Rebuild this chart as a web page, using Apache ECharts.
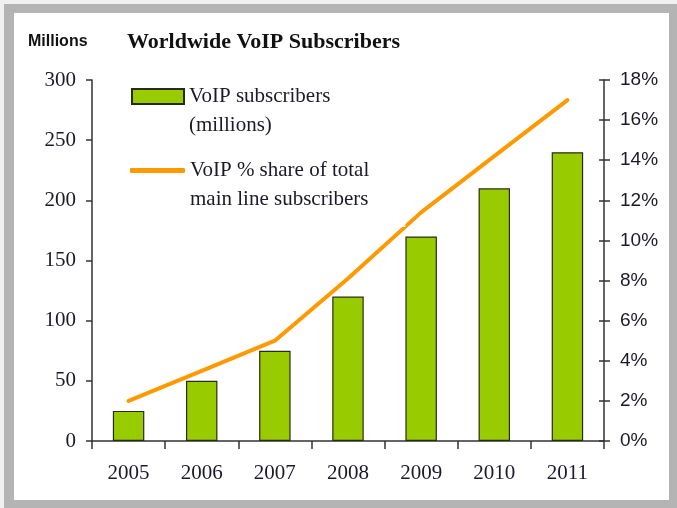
<!DOCTYPE html>
<html>
<head>
<meta charset="utf-8">
<script src="https://cdn.jsdelivr.net/npm/echarts@6/dist/echarts.min.js"></script>
<style>
  html, body { margin: 0; padding: 0; background: #f0f0f0; }
  #frame { position: absolute; left: 4px; top: 4px; width: 655px; height: 487px; border: 10px solid #b4b4b4; border-top-width: 9px; border-right-width: 8px; border-bottom-width: 8px; background: #ffffff; }
  #chart { position: absolute; left: 0; top: 0; width: 677px; height: 508px; }
</style>
</head>
<body>
<div id="frame"></div>
<div id="chart"></div>
<script>
const years = ['2005', '2006', '2007', '2008', '2009', '2010', '2011'];
const subscribers = [25, 50, 75, 120, 170, 210, 240];
const sharePct = [2, 3.5, 5, 8.1, 11.4, 14.2, 17];
const leftTicks = { min: 0, max: 300, interval: 50 };
const rightTicks = { min: 0, max: 18, interval: 2 };
const barName = 'VoIP subscribers\n(millions)';
const lineName = 'VoIP % share of total\nmain line subscribers';

const chart = echarts.init(document.getElementById('chart'), null, { renderer: 'canvas' });
const serif = "'Liberation Serif', 'Times New Roman', serif";
const sans = "'Liberation Sans', Arial, sans-serif";
const axisColor = '#333333';
const legendText = { fontFamily: serif, fontSize: 21, color: '#1a1a2a', lineHeight: 29 };

chart.setOption({
  backgroundColor: 'transparent',
  animation: false,
  title: [
    { text: 'Worldwide VoIP Subscribers', left: 127, top: 31, padding: 0,
      textStyle: { fontFamily: serif, fontSize: 22, fontWeight: 'bold', color: '#111111' } },
    { text: 'Millions', left: 28, top: 34, padding: 0,
      textStyle: { fontFamily: sans, fontSize: 16, fontWeight: 'bold', color: '#111111' } }
  ],
  legend: [
    { data: [{ name: barName, icon: 'rect' }], left: 131, top: 53, orient: 'vertical', itemWidth: 52, itemHeight: 15, itemGap: 0,
      padding: [0, 6, 2, 0], backgroundColor: '#ffffff', selectedMode: false,
      formatter: function (n) { return '\n' + n; },
      textStyle: legendText },
    { data: [{ name: lineName, icon: 'roundRect' }], left: 130, top: 127, orient: 'vertical', itemWidth: 55, itemHeight: 5, itemGap: 0,
      padding: [0, 36, 13, 0], backgroundColor: '#ffffff', selectedMode: false,
      formatter: function (n) { return '\n' + n; },
      textStyle: legendText }
  ],
  grid: { left: 92, right: 73, top: 80, bottom: 67, containLabel: false },
  xAxis: {
    type: 'category', data: years, boundaryGap: true,
    axisLine: { lineStyle: { color: axisColor, width: 1.5 } },
    axisTick: { show: true, length: 8, lineStyle: { color: axisColor, width: 1.5 } },
    axisLabel: { fontFamily: serif, fontSize: 21, color: '#1a1a2a', margin: 22 }
  },
  yAxis: [
    { type: 'value', position: 'left', min: leftTicks.min, max: leftTicks.max, interval: leftTicks.interval,
      splitLine: { show: false },
      axisLine: { show: true, lineStyle: { color: axisColor, width: 1.5 } },
      axisTick: { show: true, length: 6, lineStyle: { color: axisColor, width: 1.5 } },
      axisLabel: { fontFamily: serif, fontSize: 21, color: '#1a1a2a', margin: 16 } },
    { type: 'value', position: 'right', min: rightTicks.min, max: rightTicks.max, interval: rightTicks.interval,
      splitLine: { show: false },
      axisLine: { show: true, lineStyle: { color: axisColor, width: 1.5 } },
      axisTick: { show: true, length: 6, lineStyle: { color: axisColor, width: 1.5 } },
      axisLabel: { fontFamily: sans, fontSize: 19, color: '#1a1a2a', margin: 16, formatter: '{value}%' } },
    { type: 'value', position: 'right', min: rightTicks.min, max: rightTicks.max, interval: rightTicks.interval,
      splitLine: { show: false },
      axisLine: { show: false },
      axisTick: { show: true, inside: true, length: 5, lineStyle: { color: axisColor, width: 1.5 } },
      axisLabel: { show: false } }
  ],
  series: [
    { name: barName, type: 'bar', data: subscribers, yAxisIndex: 0, barWidth: '43%',
      itemStyle: { color: '#99cc00', borderColor: '#2a2a1a', borderWidth: 1.2 }, z: 2 },
    { name: lineName, type: 'line', data: sharePct, yAxisIndex: 1, symbol: 'none',
      itemStyle: { color: '#ff9900' },
      lineStyle: { color: '#ff9900', width: 4, cap: 'round', join: 'round' }, z: 3 }
  ]
});
</script>
</body>
</html>
